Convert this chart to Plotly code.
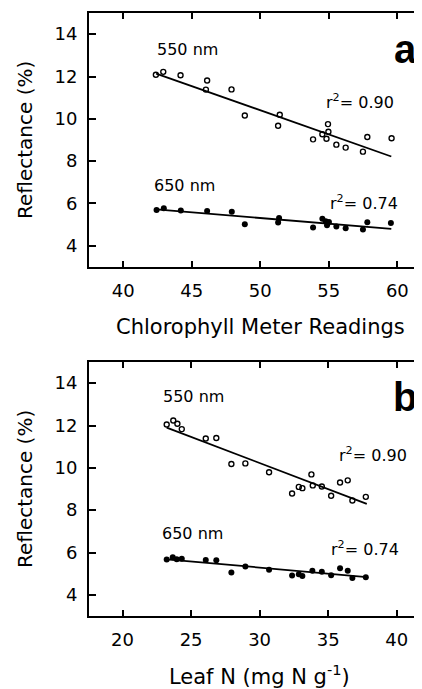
import plotly.graph_objects as go

# ---------- Panel a: Chlorophyll meter readings ----------
a_x = [42.38, 42.92, 44.18, 46.12, 46.03, 47.90, 48.87, 51.42, 51.30, 53.85,
       54.53, 54.83, 54.94, 54.97, 55.55, 56.23, 57.49, 57.81, 59.58]
a_550 = [12.08, 12.22, 12.06, 11.81, 11.38, 11.39, 10.16, 10.19, 9.67, 9.03,
         9.27, 9.06, 9.75, 9.39, 8.78, 8.64, 8.45, 9.14, 9.08]
a_x650 = [42.43, 42.96, 44.20, 46.12, 47.92, 48.87, 51.37, 51.30, 53.85, 54.53,
          54.77, 54.87, 55.01, 55.55, 56.23, 57.49, 57.81, 59.53]
a_650 = [5.69, 5.77, 5.67, 5.64, 5.61, 5.02, 5.31, 5.10, 4.86, 5.28,
         5.16, 4.97, 5.12, 4.91, 4.83, 4.77, 5.11, 5.08]
a_fit_x = [42.4, 59.56]
a_fit550 = [12.14, 8.22]
a_fit650 = [5.72, 4.80]

# ---------- Panel b: Leaf N ----------
b_x = [23.22, 23.70, 24.00, 24.32, 26.07, 26.84, 27.94, 28.96, 30.69, 32.37,
       32.86, 33.12, 33.78, 33.88, 34.54, 35.22, 35.87, 36.43, 36.77, 37.75]
b_550 = [12.05, 12.24, 12.08, 11.83, 11.39, 11.41, 10.18, 10.21, 9.79, 8.79,
         9.10, 9.04, 9.69, 9.17, 9.12, 8.68, 9.31, 9.41, 8.46, 8.63]
b_x650 = [23.22, 23.66, 23.95, 24.32, 26.07, 26.84, 27.94, 28.96, 30.69, 32.37,
          32.86, 33.12, 33.85, 34.54, 35.22, 35.87, 36.43, 36.77, 37.75]
b_650 = [5.67, 5.78, 5.68, 5.70, 5.65, 5.64, 5.05, 5.34, 5.19, 4.91,
         4.97, 4.89, 5.14, 5.09, 4.93, 5.26, 5.14, 4.79, 4.83]
b_fit_x = [23.22, 37.82]
b_fit550 = [11.90, 8.30]
b_fit650 = [5.68, 4.84]

y_ticks = [4, 6, 8, 10, 12, 14]
a_ticks = [40, 45, 50, 55, 60]
b_ticks = [20, 25, 30, 35, 40]

FONT = "DejaVu Sans"
BLACK = "black"

fig = go.Figure()

def add_panel(xs, y550, xs650, y650, fx, f550, f650, xa, ya):
    fig.add_trace(go.Scatter(x=fx, y=f550, mode="lines", line=dict(color=BLACK, width=1.8),
                             xaxis=xa, yaxis=ya, showlegend=False, hoverinfo="skip"))
    fig.add_trace(go.Scatter(x=fx, y=f650, mode="lines", line=dict(color=BLACK, width=1.8),
                             xaxis=xa, yaxis=ya, showlegend=False, hoverinfo="skip"))
    fig.add_trace(go.Scatter(x=xs, y=y550, mode="markers",
                             marker=dict(symbol="circle-open", size=5, color=BLACK,
                                         line=dict(width=1.4, color=BLACK)),
                             xaxis=xa, yaxis=ya, showlegend=False))
    fig.add_trace(go.Scatter(x=xs650, y=y650, mode="markers",
                             marker=dict(symbol="circle", size=6, color=BLACK),
                             xaxis=xa, yaxis=ya, showlegend=False))

add_panel(a_x, a_550, a_x650, a_650, a_fit_x, a_fit550, a_fit650, "x", "y")
add_panel(b_x, b_550, b_x650, b_650, b_fit_x, b_fit550, b_fit650, "x2", "y2")

xcommon = dict(showline=True, linecolor=BLACK, linewidth=2, mirror="ticks",
               ticks="inside", ticklen=6, tickwidth=1.5, tickcolor=BLACK,
               showgrid=False, zeroline=False,
               tickfont=dict(family=FONT, size=18, color=BLACK), ticklabelstandoff=6)
ycommon = dict(showline=True, linecolor=BLACK, linewidth=2, mirror=False,
               ticks="inside", ticklen=7, tickwidth=1.5, tickcolor=BLACK,
               showgrid=False, zeroline=False, range=[3, 15], tickvals=y_ticks,
               tickfont=dict(family=FONT, size=18, color=BLACK), ticklabelstandoff=6)

# page body has an 8px default margin, so the figure is sized 8px smaller
fig.update_layout(
    width=414, height=681,
    margin=dict(l=81, r=0, t=5, b=73),
    paper_bgcolor="white", plot_bgcolor="white",
    xaxis=dict(xcommon, domain=[0, 1], anchor="y", range=[37.5, 61.8], tickvals=a_ticks),
    yaxis=dict(ycommon, domain=[0.5788, 1], anchor="x"),
    xaxis2=dict(xcommon, domain=[0, 1], anchor="y2", range=[17.55, 41.85], tickvals=b_ticks),
    yaxis2=dict(ycommon, domain=[0, 0.4212], anchor="x2"),
)

ann_font = dict(family=FONT, size=16, color=BLACK)
title_font = dict(family=FONT, size=20, color=BLACK)
xtitle_font = dict(family=FONT, size=21, color=BLACK)
letter_font = dict(family="Liberation Sans", size=40, color=BLACK, weight="bold")

anns = [
    # panel a
    dict(x=44.7, y=13.27, xref="x", yref="y", text="550 nm", font=ann_font),
    dict(x=57.3, y=10.83, xref="x", yref="y", text="r<sup>2</sup>= 0.90", font=ann_font),
    dict(x=44.5, y=6.84, xref="x", yref="y", text="650 nm", font=ann_font),
    dict(x=57.6, y=6.06, xref="x", yref="y", text="r<sup>2</sup>= 0.74", font=ann_font),
    dict(x=60.6, y=13.3, xref="x", yref="y", text="a", font=letter_font),
    # panel b
    dict(x=25.14, y=13.35, xref="x2", yref="y2", text="550 nm", font=ann_font),
    dict(x=38.3, y=10.63, xref="x2", yref="y2", text="r<sup>2</sup>= 0.90", font=ann_font),
    dict(x=25.1, y=6.89, xref="x2", yref="y2", text="650 nm", font=ann_font),
    dict(x=37.7, y=6.18, xref="x2", yref="y2", text="r<sup>2</sup>= 0.74", font=ann_font),
    dict(x=40.6, y=13.35, xref="x2", yref="y2", text="b", font=letter_font),
    # axis titles
    dict(x=50, y=0, xref="x", yref="y domain", yshift=-60, text="Chlorophyll Meter Readings",
         font=xtitle_font),
    dict(x=30, y=0, xref="x2", yref="y2 domain", yshift=-59, text="Leaf N (mg N g<sup>-1</sup>)",
         font=xtitle_font),
    dict(x=0, y=0.5, xref="x domain", yref="y domain", xshift=-64, textangle=-90,
         text="Reflectance (%)", font=title_font),
    dict(x=0, y=0.5, xref="x2 domain", yref="y2 domain", xshift=-64, textangle=-90,
         text="Reflectance (%)", font=title_font),
]
for a in anns:
    a.setdefault("showarrow", False)
    a.setdefault("xanchor", "center")
    a.setdefault("yanchor", "middle")
    fig.add_annotation(**a)

fig.write_html("out.html")
